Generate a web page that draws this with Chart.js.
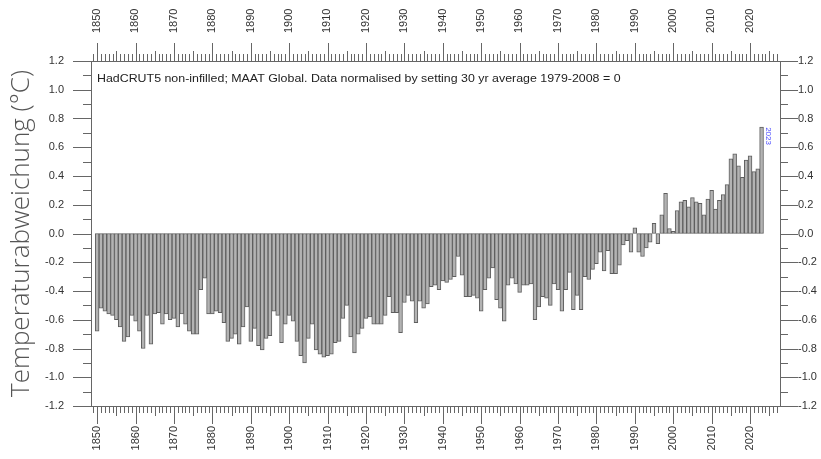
<!DOCTYPE html>
<html>
<head>
<meta charset="utf-8">
<script src="https://cdn.jsdelivr.net/npm/chart.js@4/dist/chart.umd.min.js"></script>
<style>
  html, body { margin: 0; padding: 0; background: #ffffff; }
  #wrap { width: 821px; height: 459px; }
</style>
</head>
<body>
<div id="wrap"><canvas id="c" width="821" height="459"></canvas></div>
<script>
// ---- data ----
const years = [
  1850,1851,1852,1853,1854,1855,1856,1857,1858,1859,
  1860,1861,1862,1863,1864,1865,1866,1867,1868,1869,
  1870,1871,1872,1873,1874,1875,1876,1877,1878,1879,
  1880,1881,1882,1883,1884,1885,1886,1887,1888,1889,
  1890,1891,1892,1893,1894,1895,1896,1897,1898,1899,
  1900,1901,1902,1903,1904,1905,1906,1907,1908,1909,
  1910,1911,1912,1913,1914,1915,1916,1917,1918,1919,
  1920,1921,1922,1923,1924,1925,1926,1927,1928,1929,
  1930,1931,1932,1933,1934,1935,1936,1937,1938,1939,
  1940,1941,1942,1943,1944,1945,1946,1947,1948,1949,
  1950,1951,1952,1953,1954,1955,1956,1957,1958,1959,
  1960,1961,1962,1963,1964,1965,1966,1967,1968,1969,
  1970,1971,1972,1973,1974,1975,1976,1977,1978,1979,
  1980,1981,1982,1983,1984,1985,1986,1987,1988,1989,
  1990,1991,1992,1993,1994,1995,1996,1997,1998,1999,
  2000,2001,2002,2003,2004,2005,2006,2007,2008,2009,
  2010,2011,2012,2013,2014,2015,2016,2017,2018,2019,
  2020,2021,2022,2023
];
const anomalies = [
  -0.68,-0.52,-0.54,-0.56,-0.57,-0.60,-0.65,-0.75,-0.72,-0.57,
  -0.61,-0.68,-0.80,-0.57,-0.77,-0.56,-0.55,-0.63,-0.56,-0.60,
  -0.59,-0.65,-0.56,-0.63,-0.68,-0.70,-0.70,-0.39,-0.31,-0.56,
  -0.56,-0.54,-0.55,-0.62,-0.75,-0.73,-0.70,-0.77,-0.65,-0.51,
  -0.75,-0.66,-0.78,-0.81,-0.73,-0.71,-0.54,-0.57,-0.76,-0.63,
  -0.57,-0.61,-0.75,-0.85,-0.90,-0.73,-0.63,-0.81,-0.84,-0.86,
  -0.85,-0.84,-0.76,-0.75,-0.59,-0.50,-0.72,-0.83,-0.70,-0.66,
  -0.59,-0.58,-0.63,-0.63,-0.63,-0.57,-0.44,-0.55,-0.55,-0.69,
  -0.48,-0.43,-0.47,-0.62,-0.47,-0.52,-0.49,-0.37,-0.36,-0.39,
  -0.33,-0.34,-0.32,-0.30,-0.16,-0.29,-0.44,-0.44,-0.43,-0.45,
  -0.54,-0.39,-0.31,-0.24,-0.46,-0.52,-0.61,-0.36,-0.31,-0.35,
  -0.41,-0.36,-0.36,-0.35,-0.60,-0.51,-0.44,-0.45,-0.50,-0.35,
  -0.39,-0.54,-0.39,-0.27,-0.53,-0.43,-0.53,-0.30,-0.32,-0.25,
  -0.21,-0.13,-0.26,-0.12,-0.28,-0.28,-0.22,-0.08,-0.05,-0.13,
  0.04,-0.13,-0.16,-0.10,-0.06,0.07,-0.07,0.13,0.28,0.035,
  0.015,0.16,0.22,0.23,0.185,0.25,0.22,0.21,0.13,0.24,
  0.30,0.17,0.23,0.27,0.34,0.52,0.555,0.47,0.39,0.51,
  0.54,0.43,0.45,0.74
];
const decadeTicks = [1850,1860,1870,1880,1890,1900,1910,1920,1930,1940,1950,1960,1970,1980,1990,2000,2010,2020];
const valueTicks = [-1.2,-1.0,-0.8,-0.6,-0.4,-0.2,0.0,0.2,0.4,0.6,0.8,1.0,1.2];
const yAxisTitle = 'Temperaturabweichung (°C)';
const noteText = 'HadCRUT5 non-infilled; MAAT Global. Data normalised by setting 30 yr average 1979-2008 = 0';
const lastLabel = '2023';

// ---- styles ----
const AXIS = '#666666';
const LABEL = '#333333';
const TICKFONT = { family: 'Liberation Sans, Arial, sans-serif', size: 11 };

const points = years.map((yr, i) => ({ x: yr, y: anomalies[i] }));

const frameTicks = {
  id: 'frameTicks',
  afterDraw(chart) {
    const ctx = chart.ctx;
    const xs = chart.scales.x, ys = chart.scales.y;
    const a = chart.chartArea;
    ctx.save();
    ctx.strokeStyle = AXIS;
    ctx.lineWidth = 1;
    ctx.beginPath();
    for (let yr = Math.ceil(xs.min); yr <= Math.floor(xs.max); yr++) {
      const px = Math.round(xs.getPixelForValue(yr)) + 0.5;
      const len = yr % 10 === 0 ? 18 : (yr % 5 === 0 ? 10 : 7);
      ctx.moveTo(px, a.top); ctx.lineTo(px, a.top - len);
      ctx.moveTo(px, a.bottom); ctx.lineTo(px, a.bottom + len);
    }
    for (let k = -12; k <= 12; k++) {
      const py = Math.round(ys.getPixelForValue(k / 10)) + 0.5;
      const len = k % 2 === 0 ? 18 : 8;
      ctx.moveTo(a.left, py); ctx.lineTo(a.left - len, py);
      ctx.moveTo(a.right, py); ctx.lineTo(a.right + len, py);
    }
    ctx.stroke();
    ctx.restore();
  },
  afterDatasetsDraw(chart) {
    const ctx = chart.ctx;
    const a = chart.chartArea;
    ctx.save();
    ctx.fillStyle = '#222222';
    ctx.font = '10.5px "Liberation Sans", Arial, sans-serif';
    ctx.textBaseline = 'alphabetic';
    ctx.translate(a.left + 6, a.top + 21);
    ctx.scale(1.18, 1);
    ctx.fillText(noteText, 0, 0);
    ctx.restore();
    ctx.save();
    const meta = chart.getDatasetMeta(0);
    const el = meta.data[meta.data.length - 1];
    ctx.translate(el.x + 7, el.y);
    ctx.rotate(Math.PI / 2);
    ctx.fillStyle = '#4a4aff';
    ctx.font = '8px "Liberation Sans", Arial, sans-serif';
    ctx.textBaseline = 'middle';
    ctx.textAlign = 'left';
    ctx.fillText(lastLabel, 0, 0);
    ctx.restore();
  }
};

function xAxis(pos, h, pad, shift) {
  return {
    type: 'linear', position: pos, min: 1848.4, max: 2027.8, offset: false,
    afterBuildTicks: s => { s.ticks = decadeTicks.map(v => ({ value: v })); },
    afterFit: s => { s.height = h; },
    ticks: { autoSkip: false, minRotation: 90, maxRotation: 90, padding: pad, labelOffset: shift, font: TICKFONT, color: LABEL, callback: v => String(v) },
    grid: { display: false, drawTicks: false, offset: false },
    border: { display: true, color: AXIS, width: 1 }
  };
}
function yAxis(pos, w, pad, title) {
  const o = {
    type: 'linear', position: pos, min: -1.2, max: 1.2,
    afterBuildTicks: s => { s.ticks = valueTicks.map(v => ({ value: v })); },
    afterFit: s => { s.width = w; },
    ticks: { padding: pad, font: TICKFONT, color: LABEL, callback: v => Number(v).toFixed(1) },
    grid: { display: false, drawTicks: false },
    border: { display: true, color: AXIS, width: 1 }
  };
  if (title) {
    o.title = { display: true, text: yAxisTitle, color: '#555555', font: { family: 'Open Sans', size: 26, weight: '300' }, padding: { top: 6, bottom: 0 } };
  }
  return o;
}

new Chart(document.getElementById('c'), {
  type: 'bar',
  data: {
    datasets: [{
      data: points,
      xAxisID: 'x', yAxisID: 'y',
      backgroundColor: '#b3b3b3',
      borderColor: '#5e5e5e',
      borderWidth: 1,
      borderSkipped: false,
      barPercentage: 1.0,
      categoryPercentage: 1.0
    }]
  },
  options: {
    responsive: false,
    animation: false,
    devicePixelRatio: 1,
    layout: { padding: 0 },
    plugins: { legend: { display: false }, tooltip: { enabled: false }, title: { display: false } },
    scales: {
      x: xAxis('bottom', 53, 20, 0),
      xTop: xAxis('top', 61, 28, 13),
      y: yAxis('left', 91, 27, true),
      yRight: yAxis('right', 41, 18, false)
    }
  },
  plugins: [frameTicks]
});
</script>
</body>
</html>
